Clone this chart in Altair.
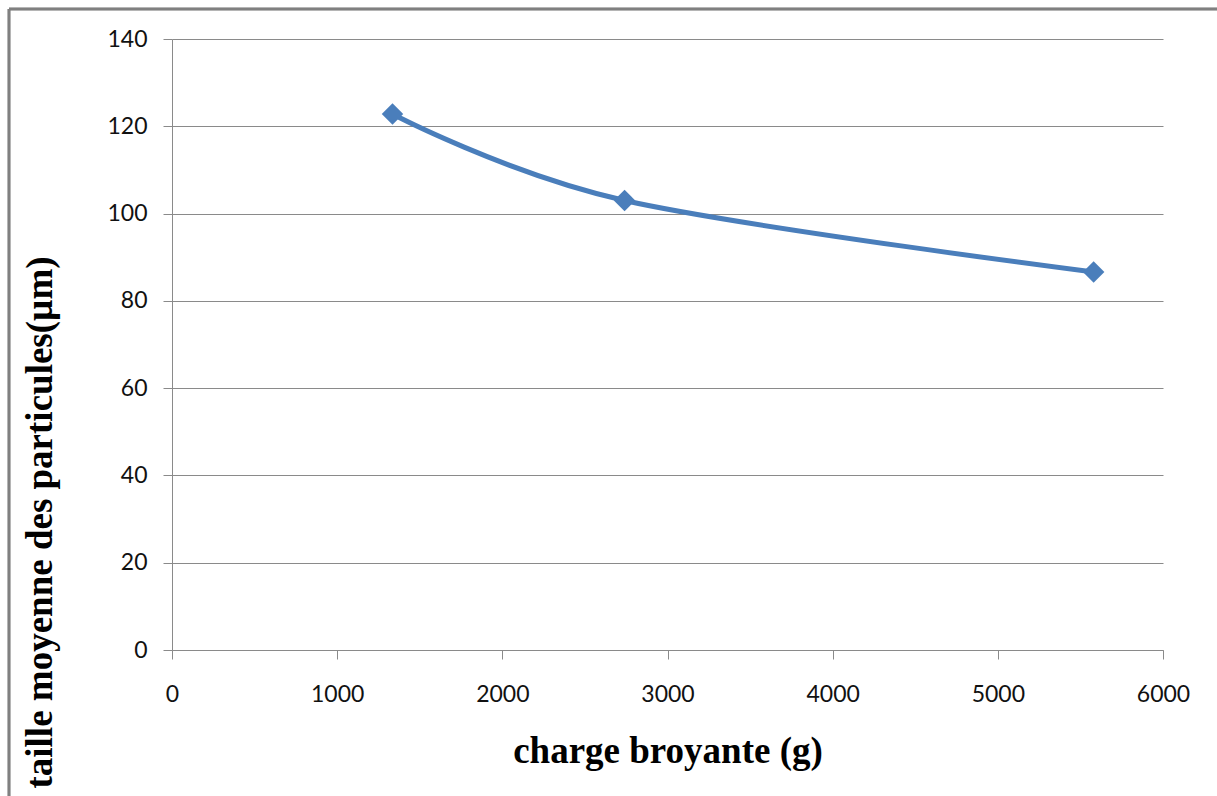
import altair as alt
import pandas as pd

charge = [1335, 2740, 5580]
taille = [122.8, 103.0, 86.6]
x_ticks = [0, 1000, 2000, 3000, 4000, 5000, 6000]
y_ticks = [0, 20, 40, 60, 80, 100, 120, 140]

df = pd.DataFrame({"charge": charge, "taille": taille})

W, H = 991, 611
GRID = "#8a8a8a"
BLUE = "#4a7ebb"

x_enc = alt.X(
    "charge:Q",
    scale=alt.Scale(domain=[0, 6000], nice=False, zero=True),
    axis=alt.Axis(
        values=x_ticks, grid=False, format="d", title="charge broyante (g)",
        labelFlush=False, labelOverlap=False,
        domainColor=GRID, tickColor=GRID, tickSize=9, labelPadding=24,
        labelFont="Lato", labelFontSize=23, labelColor="#111111",
        titleFont="Liberation Serif", titleFontSize=37, titleFontWeight="bold",
        titleColor="#000000", titleBaseline="alphabetic", titleY=112,
    ),
)
y_enc = alt.Y(
    "taille:Q",
    scale=alt.Scale(domain=[0, 140], nice=False),
    axis=alt.Axis(
        values=y_ticks, grid=True, gridColor=GRID, gridWidth=1, gridOpacity=1,
        format="d", title="taille moyenne des particules(µm)",
        labelFlush=False, labelOverlap=False,
        domainColor=GRID, tickColor=GRID, tickSize=9, labelPadding=16,
        labelFont="Lato", labelFontSize=23, labelColor="#111111",
        titleFont="Liberation Serif", titleFontSize=37, titleFontWeight="bold",
        titleColor="#000000", titleAngle=270, titleAlign="center",
        titleBaseline="middle", titleX=-132, titleY=483,
    ),
)

line = alt.Chart(df).mark_line(
    interpolate="cardinal", color=BLUE, strokeWidth=5
).encode(x=x_enc, y=y_enc)

pts = alt.Chart(df).mark_point(
    shape="diamond", filled=True, size=460, color=BLUE, opacity=1
).encode(x="charge:Q", y="taille:Q")

border_left = alt.Chart(df).mark_rule(color="#808080", strokeWidth=2.5).encode(
    x=alt.value(-163), y=alt.value(-30), y2=alt.value(H + 160)
)
border_top = alt.Chart(df).mark_rule(color="#808080", strokeWidth=2.5).encode(
    x=alt.value(-163), x2=alt.value(W + 60), y=alt.value(-30)
)

chart = (
    alt.layer(line, pts, border_left, border_top)
    .properties(
        width=W, height=H,
        autosize=alt.AutoSizeParams(type="none"),
        padding={"left": 172, "top": 39, "right": 54, "bottom": 146},
        background="white",
    )
    .configure_view(strokeWidth=0)
)

chart.save("out.html", embed_options={"renderer": "svg", "actions": False})
